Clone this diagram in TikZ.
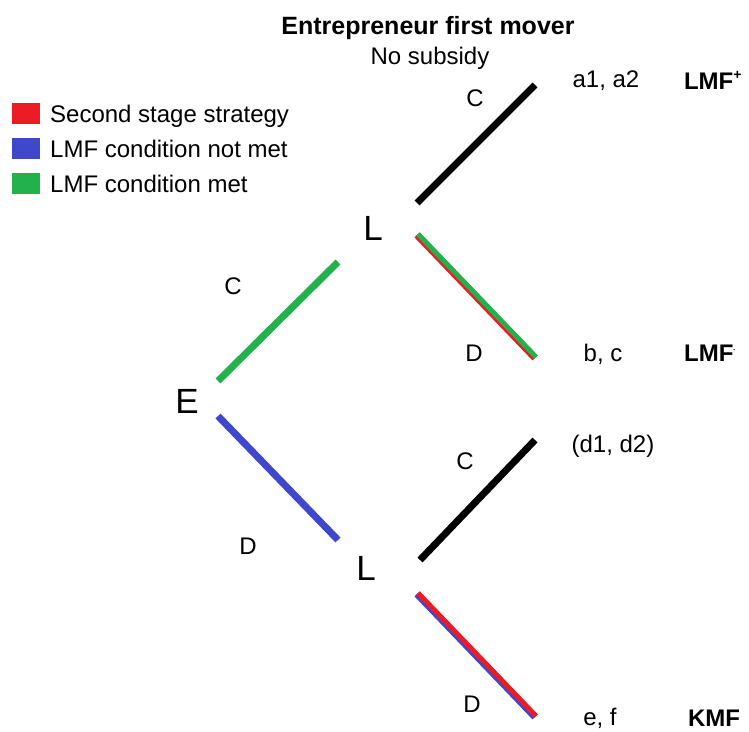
\documentclass[tikz,border=0pt]{standalone}
\usepackage{fontspec}
\setmainfont{Liberation Sans}
\usepackage{tikz}

\definecolor{stagered}{RGB}{237,28,36}
\definecolor{notmetblue}{RGB}{63,72,204}
\definecolor{metgreen}{RGB}{34,177,76}

\begin{document}
\begin{tikzpicture}[x=1pt, y=-1pt,
        branch/.style={line width=7pt},
        overbranch/.style={line width=5pt},
        lbl/.style={anchor=base, inner sep=0pt, font=\fontsize{24}{28}\selectfont},
        player/.style={anchor=base, inner sep=0pt, font=\fontsize{35}{40}\selectfont},
        key/.style={anchor=base west, inner sep=0pt, font=\fontsize{24}{28}\selectfont}]
        \useasboundingbox (0, 0) rectangle (749, 731);

        % title
        \node [lbl, font=\fontsize{25}{30}\selectfont\bfseries] (title) at (428, 34) {Entrepreneur first mover};
        \node [lbl] (subsidy) at (430, 64) {No subsidy};

        % legend
        \fill [stagered] (12, 103) rectangle (40, 124);
        \fill [notmetblue] (12, 138) rectangle (40, 159);
        \fill [metgreen] (12, 173) rectangle (40, 194);
        \node [key] (keyred) at (50, 122.5) {Second stage strategy};
        \node [key] (keyblue) at (50, 157.5) {LMF condition not met};
        \node [key] (keygreen) at (50, 192.5) {LMF condition met};

        % players
        \node [player] (E) at (187, 413) {E};
        \node [player] (Lup) at (373, 240) {L};
        \node [player] (Llow) at (366, 580) {L};

        % branch ends
        \coordinate (Eup) at (218, 381);
        \coordinate (Edown) at (218, 416);
        \coordinate (LupIn) at (338, 262);
        \coordinate (LlowIn) at (338, 540);
        \coordinate (LupC) at (417, 203);
        \coordinate (LupD) at (417, 235);
        \coordinate (LlowC) at (420, 560);
        \coordinate (LlowD) at (417, 594);
        \coordinate (a) at (535, 85);
        \coordinate (b) at (535, 358);
        \coordinate (d) at (535, 440);
        \coordinate (e) at (535, 717);

        % first stage
        \draw [branch, metgreen] (Eup) -- (LupIn);
        \draw [branch, notmetblue] (Edown) -- (LlowIn);
        \node [lbl] (C1) at (233, 294) {C};
        \node [lbl] (D1) at (248, 554) {D};

        % second stage, upper
        \draw [branch, black] (LupC) -- (a);
        \draw [branch, stagered] (LupD) -- (b);
        \draw [overbranch, metgreen] ([shift={(1, -1)}]LupD) -- ([shift={(1, -1)}]b);
        \node [lbl] (C2) at (475, 106) {C};
        \node [lbl] (D2) at (474, 361) {D};

        % second stage, lower
        \draw [branch, black] (LlowC) -- (d);
        \draw [branch, notmetblue] (LlowD) -- (e);
        \draw [overbranch, stagered] ([shift={(1, -1)}]LlowD) -- ([shift={(1, -1)}]e);
        \node [lbl] (C3) at (465, 469) {C};
        \node [lbl] (D3) at (472, 712) {D};

        % payoffs
        \node [lbl] (pa) at (606, 87) {a1, a2};
        \node [lbl] (pb) at (603, 361) {b, c};
        \node [lbl] (pd) at (613, 452) {(d1, d2)};
        \node [lbl] (pe) at (600, 725) {e, f};
        \node [lbl, font=\fontsize{24}{28}\selectfont\bfseries] (ra) at (713, 89) {LMF\textsuperscript{\fontsize{14}{14}\selectfont +}};
        \node [lbl, font=\fontsize{24}{28}\selectfont\bfseries] (rb) at (710, 361) {LMF\textsuperscript{\fontsize{6}{6}\selectfont -}};
        \node [lbl, font=\fontsize{24}{28}\selectfont\bfseries] (re) at (714, 726) {KMF};
\end{tikzpicture}
\end{document}
